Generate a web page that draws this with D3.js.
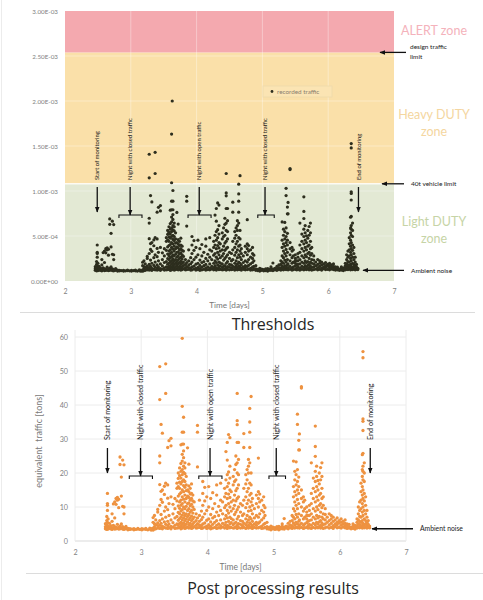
<!DOCTYPE html>
<html>
<head>
<meta charset="utf-8">
<script src="https://cdnjs.cloudflare.com/ajax/libs/d3/7.8.5/d3.min.js"></script>
<style>
    body { margin: 0; background: #fff; }
    svg { display: block; font-family: Lato, "Open Sans", sans-serif; }
</style>
</head>
<body>
<svg id="chart" width="483" height="600"></svg>
<script>
// recorded traffic, one column per time stamp: [ day, [ equivalent tons ... ] ]
var trafficColumns = [
    [2.46, [3.6, 4.2, 5.1]], [2.48, [3.4, 4.0, 4.8, 6.0, 7.2]], [2.49, [3.8, 5.5, 9.0, 10.5, 11.0, 14.0]],
    [2.50, [3.5, 4.4, 6.5]], [2.52, [3.7, 4.1, 5.2]], [2.54, [3.6, 4.5]], [2.56, [3.4, 3.9, 5.8, 8.0]],
    [2.58, [3.8, 4.6, 10.9]], [2.60, [3.5, 4.2, 6.8, 11.5]], [2.62, [3.6, 4.0, 10.8, 12.5]],
    [2.64, [3.7, 4.9, 12.0, 12.8]], [2.66, [3.5, 4.1, 9.8, 12.3]], [2.68, [3.6, 4.4, 22.5, 24.7]],
    [2.70, [3.8, 5.0, 13.2, 18.8]], [2.72, [3.5, 4.2, 10.2, 23.8]], [2.74, [3.4, 3.9, 8.0, 10.0, 22.4]],
    [2.77, [3.6, 4.3]], [2.80, [3.3, 3.7]], [2.83, [3.4, 3.6]], [2.86, [3.5]], [2.89, [3.3, 3.6]],
    [2.92, [3.4]], [2.95, [3.5, 3.7]], [2.98, [3.4]], [3.01, [3.3, 3.6]], [3.04, [3.5]],
    [3.07, [3.4, 3.7]], [3.10, [3.3]], [3.13, [3.5, 3.8]], [3.15, [3.2, 3.6]],
    [3.18, [3.2, 3.8, 5.5, 6.9]], [3.20, [3.5, 4.2, 5.1, 7.5]], [3.22, [3.6, 4.8, 6.2]],
    [3.25, [3.8, 4.5, 5.3, 8.5, 9.3]], [3.28, [3.7, 4.6, 6.0, 10.5, 16.6, 23.0, 25.0, 41.6, 51.3]],
    [3.30, [3.9, 5.2, 7.8, 12.2, 14.6, 34.3]], [3.32, [3.6, 4.4, 6.5, 11.4, 15.0, 31.7]],
    [3.35, [4.0, 5.6, 8.8, 13.7, 16.1]], [3.37, [3.8, 4.9, 7.0, 10.0, 17.0, 43.4, 52.1]],
    [3.40, [3.7, 4.5, 5.8, 9.2, 12.6, 16.5, 27.5]], [3.42, [3.9, 5.0, 7.5, 11.0, 29.5]],
    [3.45, [3.6, 4.3, 6.2, 13.0, 28.0, 30.2]], [3.48, [4.1, 5.4, 8.0, 10.8]],
    [3.51, [3.7, 4.6, 6.8, 9.5, 12.5]], [3.54, [3.8, 5.0, 7.2, 11.8, 15.5, 17.0]],
    [3.56, [3.9, 4.7, 6.1, 8.4, 10.3, 13.2, 16.0, 18.4, 20.0]],
    [3.58, [4.0, 5.2, 6.6, 8.0, 9.6, 11.5, 13.8, 15.5, 17.3, 19.2, 21.5]],
    [3.60, [3.6, 4.5, 5.5, 7.0, 8.8, 10.5, 12.0, 14.2, 16.8, 18.5, 20.5, 22.8, 28.3]],
    [3.62, [3.8, 4.9, 6.2, 7.6, 9.2, 11.0, 13.0, 15.0, 17.5, 19.5, 21.0, 23.5, 25.5, 28.5, 32.0, 39.6, 59.6]],
    [3.64, [4.2, 5.3, 6.8, 8.3, 10.0, 12.3, 14.5, 16.3, 18.0, 20.2, 22.0, 24.5, 26.5, 28.5, 32.0, 36.4]],
    [3.66, [3.7, 4.6, 6.0, 7.5, 9.5, 11.5, 13.5, 15.8, 17.5, 19.8, 21.5, 23.0]],
    [3.68, [3.9, 5.0, 6.5, 8.0, 10.2, 12.5, 14.8, 16.5, 19.0]],
    [3.70, [4.1, 5.6, 7.2, 9.0, 11.0, 13.2, 15.0, 27.4]],
    [3.72, [3.8, 4.8, 6.3, 7.8, 9.5, 11.2, 12.8, 14.5, 16.2, 22.6]],
    [3.74, [4.0, 5.2, 6.8, 8.5, 10.4, 12.0, 13.8, 15.5]],
    [3.76, [3.7, 4.5, 6.0, 7.3, 9.0, 10.8, 12.5, 14.0, 16.8]],
    [3.78, [3.9, 5.0, 6.5, 8.2, 10.0, 11.8, 13.5]], [3.80, [4.2, 5.5, 7.0, 9.3, 11.5]],
    [3.83, [3.8, 4.6, 6.0, 8.0]], [3.85, [3.9, 5.1, 6.8, 21.8, 32.0, 34.0]],
    [3.88, [4.0, 4.7, 5.8, 7.5, 12.0]], [3.91, [3.7, 4.5, 6.3, 8.8]],
    [3.93, [3.8, 5.0, 7.0, 10.5, 14.0, 17.5]], [3.96, [4.1, 5.3, 8.0, 11.8, 15.8]],
    [3.99, [3.7, 4.4, 6.1, 9.0, 13.0]], [4.02, [3.9, 4.8, 6.5, 10.0, 16.0]],
    [4.05, [3.6, 4.3, 5.6, 7.8, 12.5]], [4.08, [3.8, 4.9, 6.8, 9.5, 14.2]],
    [4.11, [4.0, 5.5, 7.2, 11.0]], [4.14, [3.7, 4.6, 6.0, 8.5, 13.5, 16.5]],
    [4.17, [3.9, 5.0, 7.5, 10.2]], [4.20, [3.8, 4.5, 6.2, 9.0, 12.0, 17.0]],
    [4.23, [4.1, 5.2, 8.0, 11.5]], [4.26, [3.8, 4.7, 6.5, 9.8, 13.0, 15.5]],
    [4.28, [4.0, 5.5, 7.5, 10.5, 14.0, 18.0, 26.3]],
    [4.30, [3.7, 4.6, 6.8, 9.0, 12.5, 16.0, 19.5, 23.8, 29.0]],
    [4.32, [4.2, 5.8, 8.2, 11.0, 13.8, 17.0, 20.3, 31.3]],
    [4.34, [3.9, 5.0, 7.0, 10.0, 12.8, 15.0, 18.5, 22.0, 30.4]],
    [4.36, [4.0, 5.4, 6.6, 8.8, 11.5, 14.5]], [4.39, [3.8, 4.8, 6.2, 9.5, 12.0, 16.5, 19.0]],
    [4.41, [3.9, 5.2, 7.8, 10.5, 13.5, 17.5, 21.0]],
    [4.43, [4.1, 5.5, 8.5, 11.8, 14.8, 18.0, 22.5, 25.0]],
    [4.45, [3.7, 4.6, 6.5, 9.2, 12.5, 15.5, 20.0, 23.0, 29.0, 34.2, 35.4, 43.4]],
    [4.47, [4.0, 5.1, 7.2, 10.0, 13.0, 16.5, 19.5, 24.0, 29.0]],
    [4.50, [3.8, 4.9, 6.0, 8.5, 11.0]], [4.53, [3.9, 4.5, 5.8, 7.5, 10.5]],
    [4.55, [4.0, 5.2, 8.0, 12.0, 15.5, 27.5, 31.6]], [4.58, [3.7, 4.8, 6.5, 9.8, 13.0, 16.8, 19.5]],
    [4.60, [4.1, 5.5, 7.5, 11.0, 14.5, 18.0, 21.0]],
    [4.62, [3.8, 4.6, 6.2, 8.8, 12.0, 15.5, 20.0, 22.0, 24.0]],
    [4.64, [4.0, 5.3, 7.0, 10.0, 13.5, 17.0, 23.0, 27.5, 32.0, 35.0, 39.0]],
    [4.66, [3.9, 4.9, 6.5, 9.0, 11.5, 14.0, 16.5, 20.0, 42.5]],
    [4.68, [3.7, 4.5, 5.8, 8.0, 10.5, 12.5]], [4.71, [4.0, 5.0, 6.8, 9.5]],
    [4.74, [3.8, 4.6, 5.5, 7.5, 11.0, 13.5]], [4.77, [3.9, 5.2, 7.0, 10.0, 12.5, 14.5, 24.4]],
    [4.79, [4.1, 5.6, 8.0, 11.5, 13.8]], [4.82, [3.7, 4.4, 6.2, 9.0, 12.0]],
    [4.85, [3.8, 4.9, 6.8, 8.5, 10.5, 13.0]], [4.87, [4.0, 5.2, 7.5, 9.8]], [4.90, [3.6, 4.2, 5.5]],
    [4.93, [3.5, 4.0]], [4.96, [3.3, 3.9, 4.4]], [4.99, [3.6, 4.1]], [5.02, [3.4, 3.9]],
    [5.05, [3.5, 4.2]], [5.08, [3.3, 3.8, 4.3]], [5.10, [3.6, 4.0]], [5.13, [3.6, 4.3, 5.0]],
    [5.16, [3.5, 4.1, 6.6]], [5.19, [3.8, 4.4]], [5.22, [3.6, 4.2, 5.2]], [5.25, [3.9, 4.7, 5.8]],
    [5.28, [3.7, 4.5, 6.0, 7.5]], [5.30, [4.0, 5.3, 7.0, 9.5, 13.0, 16.0, 23.5]],
    [5.32, [3.8, 4.8, 6.5, 8.8, 11.5, 14.5, 18.0, 20.5]],
    [5.34, [4.1, 5.5, 7.8, 10.5, 13.5, 16.5, 19.5, 23.3]],
    [5.36, [3.9, 5.0, 7.0, 9.5, 12.2, 15.0, 17.5, 21.0, 34.3, 37.3]],
    [5.38, [4.2, 5.8, 8.0, 11.0, 14.0, 16.0, 18.8, 26.8, 29.6]], [5.39, [3.8, 4.7, 6.2, 26.8, 31.5]],
    [5.42, [4.0, 5.2, 7.5, 10.0, 12.5, 15.0, 45.0, 45.4]], [5.45, [3.7, 4.6, 6.5, 8.8, 11.5, 13.0]],
    [5.47, [3.9, 5.0, 7.0, 9.5, 12.0]], [5.50, [4.0, 5.4, 6.5, 7.5, 8.5, 10.0]],
    [5.52, [3.8, 4.5, 5.8, 7.5]], [5.54, [3.9, 4.9, 6.0, 7.5, 9.0, 10.5]],
    [5.57, [3.7, 4.6, 6.2, 8.0, 11.0, 14.0, 23.0]], [5.60, [4.0, 5.2, 7.0, 9.5, 12.5, 15.5, 18.5]],
    [5.63, [3.8, 4.8, 6.5, 8.8, 11.5, 14.5, 17.5, 20.5, 24.9, 27.8, 33.8]],
    [5.65, [4.1, 5.5, 7.5, 10.0, 13.0, 16.0, 19.0, 22.0]],
    [5.67, [3.9, 5.0, 6.8, 9.2, 12.0, 15.0, 17.8]], [5.69, [4.2, 5.6, 7.2, 10.5, 13.5, 16.8, 20.0]],
    [5.71, [3.8, 4.6, 6.0, 8.5, 11.0, 14.0, 18.0, 21.6]],
    [5.73, [4.0, 5.3, 7.0, 9.8, 12.5, 15.5, 19.0, 23.0]], [5.75, [3.7, 4.8, 6.5, 8.0, 10.5, 13.0]],
    [5.78, [3.9, 5.0, 6.2, 7.8, 9.5]], [5.81, [4.1, 5.5, 7.0]], [5.84, [3.8, 4.7, 6.0, 8.0]],
    [5.87, [4.0, 5.2, 6.5, 7.5]], [5.90, [3.7, 4.5, 5.8, 7.0]], [5.93, [4.2, 5.0, 6.2]],
    [5.96, [3.9, 4.8, 5.5, 6.8]], [5.99, [4.0, 5.3, 6.0]], [6.02, [3.8, 4.6, 5.5, 6.5]],
    [6.05, [4.1, 5.0, 5.8]], [6.08, [3.9, 4.5, 5.2, 6.2]], [6.11, [3.7, 4.4, 5.0]],
    [6.14, [3.8, 4.2, 4.9]], [6.17, [3.6, 4.1]], [6.20, [3.7, 4.3, 5.0]], [6.23, [3.5, 4.0, 4.6]],
    [6.26, [3.8, 4.5, 5.5, 6.5]], [6.28, [4.0, 5.0, 6.2, 8.0, 10.0]],
    [6.30, [3.9, 4.8, 5.8, 7.2, 9.0, 11.5]], [6.32, [4.2, 5.5, 7.0, 9.5, 12.0, 14.5, 17.0]],
    [6.34, [3.8, 4.6, 6.0, 8.5, 11.0, 13.5, 16.0, 19.0, 21.0, 25.4]],
    [6.35, [4.0, 5.2, 7.5, 10.0, 12.5, 15.0, 18.0, 20.5, 22.0, 25.8, 32.5, 35.2, 35.9, 53.9, 55.7]],
    [6.37, [3.9, 4.8, 6.5, 9.0, 11.8, 14.0, 17.5, 20.0, 23.0]],
    [6.39, [4.1, 5.0, 6.0, 8.0, 10.5, 13.0]], [6.41, [3.8, 4.5, 5.5, 7.0, 9.0]],
    [6.43, [4.0, 4.9, 6.0]], [6.45, [3.9, 4.4]]
];
// raw reading only present before post processing: [ day, strain ]
var rawOnly = [[3.63, 2.0e-3]];

var zoneLimits = [0, 1.08e-3, 2.54e-3, 3.0e-3];
var strainTicks = [0, 5e-4, 1e-3, 1.5e-3, 2e-3, 2.5e-3, 3e-3];
var tonTicks = [0, 10, 20, 30, 40, 50, 60];
var dayTicks = [2, 3, 4, 5, 6, 7];
var events = [
    { label: "Start of monitoring", day: 2.49, span: null },
    { label: "Night with closed traffic", day: 2.99, span: [2.82, 3.17] },
    { label: "Night with open traffic", day: 4.04, span: [3.87, 4.22] },
    { label: "Night with closed traffic", day: 5.04, span: [4.93, 5.18] },
    { label: "End of monitoring", day: 6.46, span: null }
];
var AMBIENT_TONS = 3.6;
var TONS_PER_STRAIN = 37000, TONS_OFFSET = 0.8;

(function () {
    var svg = d3.select( "#chart" );

    var points = [];
    trafficColumns.forEach( function ( c ) {
        c[ 1 ].forEach( function ( t ) { points.push( { day: c[ 0 ], tons: t } ) } );
    });
    function strain( t ) { return ( t + TONS_OFFSET ) / TONS_PER_STRAIN }

    function fmtE( v ) {
        var p = v.toExponential( 2 ).toUpperCase().split( "E" );
        var e = +p[ 1 ];
        return p[ 0 ] + "E" + ( e < 0 ? "-" : "+" ) + ( Math.abs( e ) < 10 ? "0" : "" ) + Math.abs( e );
    }

    var defs = svg.append( "defs" );
    defs.append( "marker" )
        .attr( "id", "head" )
        .attr( "viewBox", "0 0 10 10" )
        .attr( "refX", 9 ).attr( "refY", 5 )
        .attr( "markerUnits", "userSpaceOnUse" )
        .attr( "markerWidth", 6 ).attr( "markerHeight", 6 )
        .attr( "orient", "auto" )
        .append( "path" ).attr( "d", "M0,1L10,5L0,9Z" ).attr( "fill", "#111" );

    function arrow( g, x1, y1, x2, y2 ) {
        g.append( "line" )
            .attr( "x1", x1 ).attr( "y1", y1 ).attr( "x2", x2 ).attr( "y2", y2 )
            .attr( "stroke", "#111" ).attr( "stroke-width", 1.3 )
            .attr( "marker-end", "url(#head)" );
    }

    function text( g, x, y, str, size, fill, anchor ) {
        return g.append( "text" )
            .attr( "x", x ).attr( "y", y )
            .attr( "text-anchor", anchor || "start" )
            .style( "font-size", size + "px" )
            .style( "fill", fill )
            .text( str );
    }

    function styleAxis( g, size ) {
        g.select( ".domain" ).remove();
        g.selectAll( "text" ).style( "font-size", size + "px" ).style( "fill", "#7f7f7f" )
            .style( "font-family", "Lato, sans-serif" );
    }

    function drawEvents( g, x, textY, arrowTop, braceY, size ) {
        events.forEach( function ( ev ) {
            var xe = x( ev.day );
            g.append( "text" )
                .attr( "transform", "translate(" + ( xe + size * 0.35 ) + "," + textY + ") rotate(-90)" )
                .style( "font-size", size + "px" )
                .style( "fill", "#1a1a1a" )
                .text( ev.label );
            if ( ev.span ) {
                arrow( g, xe, arrowTop, xe, braceY );
                g.append( "path" )
                    .attr( "d", "M" + x( ev.span[ 0 ] ) + "," + ( braceY + 3 ) + "V" + braceY +
                        "H" + x( ev.span[ 1 ] ) + "V" + ( braceY + 3 ) )
                    .attr( "fill", "none" ).attr( "stroke", "#111" ).attr( "stroke-width", 1.1 );
            } else {
                arrow( g, xe, arrowTop, xe, braceY - 3 );
            }
        });
    }

    // ---------- top chart : thresholds ----------
    var top = svg.append( "g" );
    var x0 = d3.scaleLinear().domain( [ 2, 7 ] ).range( [ 65, 394 ] );
    var y0 = d3.scaleLinear().domain( [ 0, 3e-3 ] ).range( [ 281, 11 ] );
    var zoneFill = [ "#e3e9d4", "#fae0a9", "#f4a9af" ];
    var zoneText = [ "#c6d4a6", "#f4d6a0", "#f4b2bb" ];

    top.selectAll( "rect.zone" )
        .data( zoneFill )
        .enter().append( "rect" )
        .attr( "class", "zone" )
        .attr( "x", x0( 2 ) )
        .attr( "width", x0( 7 ) - x0( 2 ) )
        .attr( "y", function ( d, i ) { return y0( zoneLimits[ i + 1 ] ) } )
        .attr( "height", function ( d, i ) { return y0( zoneLimits[ i ] ) - y0( zoneLimits[ i + 1 ] ) } )
        .attr( "fill", function ( d ) { return d } );

    var grid0 = top.append( "g" ).attr( "stroke", "#fff" ).attr( "stroke-opacity", 0.35 );
    strainTicks.slice( 1, -1 ).forEach( function ( v ) {
        grid0.append( "line" ).attr( "x1", x0( 2 ) ).attr( "x2", x0( 7 ) ).attr( "y1", y0( v ) ).attr( "y2", y0( v ) );
    });
    dayTicks.slice( 1, -1 ).forEach( function ( d ) {
        grid0.append( "line" ).attr( "x1", x0( d ) ).attr( "x2", x0( d ) ).attr( "y1", y0( 3e-3 ) ).attr( "y2", y0( 0 ) );
    });
    top.append( "line" )
        .attr( "x1", x0( 2 ) ).attr( "x2", x0( 7 ) )
        .attr( "y1", y0( zoneLimits[ 1 ] ) ).attr( "y2", y0( zoneLimits[ 1 ] ) )
        .attr( "stroke", "#fff" ).attr( "stroke-opacity", 0.8 ).attr( "stroke-width", 1.5 );

    top.append( "g" )
        .attr( "transform", "translate(" + x0( 2 ) + ",0)" )
        .call( d3.axisLeft( y0 ).tickValues( strainTicks ).tickFormat( fmtE ).tickSize( 0 ).tickPadding( 7 ) )
        .call( styleAxis, 6.3 );
    top.append( "g" )
        .attr( "transform", "translate(0," + y0( 0 ) + ")" )
        .call( d3.axisBottom( x0 ).tickValues( dayTicks ).tickFormat( d3.format( "d" ) ).tickSize( 0 ).tickPadding( 8.5 ) )
        .call( styleAxis, 7 );
    text( top, ( x0( 2 ) + x0( 7 ) ) / 2, 308, "Time [days]", 8.2, "#777", "middle" );

    top.append( "g" ).selectAll( "circle" )
        .data( points )
        .enter().append( "circle" )
        .attr( "cx", function ( d ) { return x0( d.day ) } )
        .attr( "cy", function ( d ) { return y0( strain( d.tons ) ) } )
        .attr( "r", 1.6 )
        .attr( "fill", "#2d2e1e" );
    top.append( "g" ).selectAll( "circle" )
        .data( rawOnly )
        .enter().append( "circle" )
        .attr( "cx", function ( d ) { return x0( d[ 0 ] ) } )
        .attr( "cy", function ( d ) { return y0( d[ 1 ] ) } )
        .attr( "r", 1.6 )
        .attr( "fill", "#2d2e1e" );

    // legend
    top.append( "rect" ).attr( "x", 263 ).attr( "y", 86 ).attr( "width", 69 ).attr( "height", 11 )
        .attr( "fill", "#fbe4b3" ).attr( "stroke", "#eed9ab" ).attr( "stroke-width", 0.8 );
    top.append( "circle" ).attr( "cx", 272 ).attr( "cy", 91.5 ).attr( "r", 1.4 ).attr( "fill", "#2d2e1e" );
    text( top, 277, 94, "recorded traffic", 6.3, "#8a8070" );

    drawEvents( top, x0, 180, 187, 215, 5.9 );

    // zone names and limits
    text( top, 434, 35, "ALERT zone", 12.5, zoneText[ 2 ], "middle" );
    text( top, 434, 119, "Heavy DUTY", 12.5, zoneText[ 1 ], "middle" );
    text( top, 434, 136, "zone", 12.5, zoneText[ 1 ], "middle" );
    text( top, 434, 226, "Light DUTY", 12.5, zoneText[ 0 ], "middle" );
    text( top, 434, 243, "zone", 12.5, zoneText[ 0 ], "middle" );

    arrow( top, 406, y0( zoneLimits[ 2 ] ), 380, y0( zoneLimits[ 2 ] ) );
    text( top, 410, 49, "design traffic", 6.5, "#222" );
    text( top, 410, 59, "limit", 6.5, "#222" );
    arrow( top, 404, y0( zoneLimits[ 1 ] ), 382, y0( zoneLimits[ 1 ] ) );
    text( top, 411, y0( zoneLimits[ 1 ] ) + 2.3, "40t vehicle limit", 6.5, "#222" );
    arrow( top, 404, y0( strain( AMBIENT_TONS ) ), 363, y0( strain( AMBIENT_TONS ) ) );
    text( top, 411, y0( strain( AMBIENT_TONS ) ) + 2.3, "Ambient noise", 6.5, "#222" );

    top.append( "line" ).attr( "x1", 20 ).attr( "x2", 475 ).attr( "y1", 312.5 ).attr( "y2", 312.5 )
        .attr( "stroke", "#dcdcdc" );
    text( top, 273, 330, "Thresholds", 16, "#262626", "middle" ).style( "font-family", "'Open Sans', sans-serif" );

    // ---------- bottom chart : post processing ----------
    var bot = svg.append( "g" );
    var x1 = d3.scaleLinear().domain( [ 2, 7 ] ).range( [ 75, 406 ] );
    var y1 = d3.scaleLinear().domain( [ 0, 60 ] ).range( [ 541, 337 ] );

    var grid1 = bot.append( "g" ).attr( "stroke", "#ececec" );
    tonTicks.forEach( function ( v ) {
        grid1.append( "line" ).attr( "x1", x1( 2 ) ).attr( "x2", x1( 7 ) ).attr( "y1", y1( v ) ).attr( "y2", y1( v ) )
            .attr( "stroke", v === 0 ? "#d9d9d9" : null );
    });
    dayTicks.forEach( function ( d ) {
        grid1.append( "line" ).attr( "x1", x1( d ) ).attr( "x2", x1( d ) ).attr( "y1", 330 ).attr( "y2", y1( 0 ) );
    });

    bot.append( "g" )
        .attr( "transform", "translate(" + x1( 2 ) + ",0)" )
        .call( d3.axisLeft( y1 ).tickValues( tonTicks ).tickSize( 0 ).tickPadding( 7 ) )
        .call( styleAxis, 7.2 );
    bot.append( "g" )
        .attr( "transform", "translate(0," + y1( 0 ) + ")" )
        .call( d3.axisBottom( x1 ).tickValues( dayTicks ).tickFormat( d3.format( "d" ) ).tickSize( 0 ).tickPadding( 8.5 ) )
        .call( styleAxis, 7.2 );
    text( bot, ( x1( 2 ) + x1( 7 ) ) / 2, 570, "Time [days]", 8.5, "#777", "middle" );
    bot.append( "text" )
        .attr( "transform", "translate(42," + ( ( y1( 0 ) + y1( 60 ) ) / 2 + 2 ) + ") rotate(-90)" )
        .attr( "text-anchor", "middle" )
        .style( "font-size", "9px" ).style( "fill", "#7a7a7a" ).style( "white-space", "pre" )
        .text( "equivalent  traffic [tons]" );

    bot.append( "g" ).selectAll( "circle" )
        .data( points )
        .enter().append( "circle" )
        .attr( "cx", function ( d ) { return x1( d.day ) } )
        .attr( "cy", function ( d ) { return y1( d.tons ) } )
        .attr( "r", 1.65 )
        .attr( "fill", "#ee9240" );

    drawEvents( bot, x1, 440, 448, 476, 7.2 );
    arrow( bot, 413, y1( AMBIENT_TONS ), 372, y1( AMBIENT_TONS ) );
    text( bot, 420, y1( AMBIENT_TONS ) + 2.3, "Ambient noise", 6.8, "#222" );

    bot.append( "line" ).attr( "x1", 26 ).attr( "x2", 483 ).attr( "y1", 573.5 ).attr( "y2", 573.5 )
        .attr( "stroke", "#dcdcdc" );
    text( bot, 273, 594, "Post processing results", 16, "#262626", "middle" ).style( "font-family", "'Open Sans', sans-serif" );

    svg.append( "line" ).attr( "x1", 1.5 ).attr( "x2", 1.5 ).attr( "y1", 0 ).attr( "y2", 600 )
        .attr( "stroke", "#ececec" );
})();
</script>
</body>
</html>
